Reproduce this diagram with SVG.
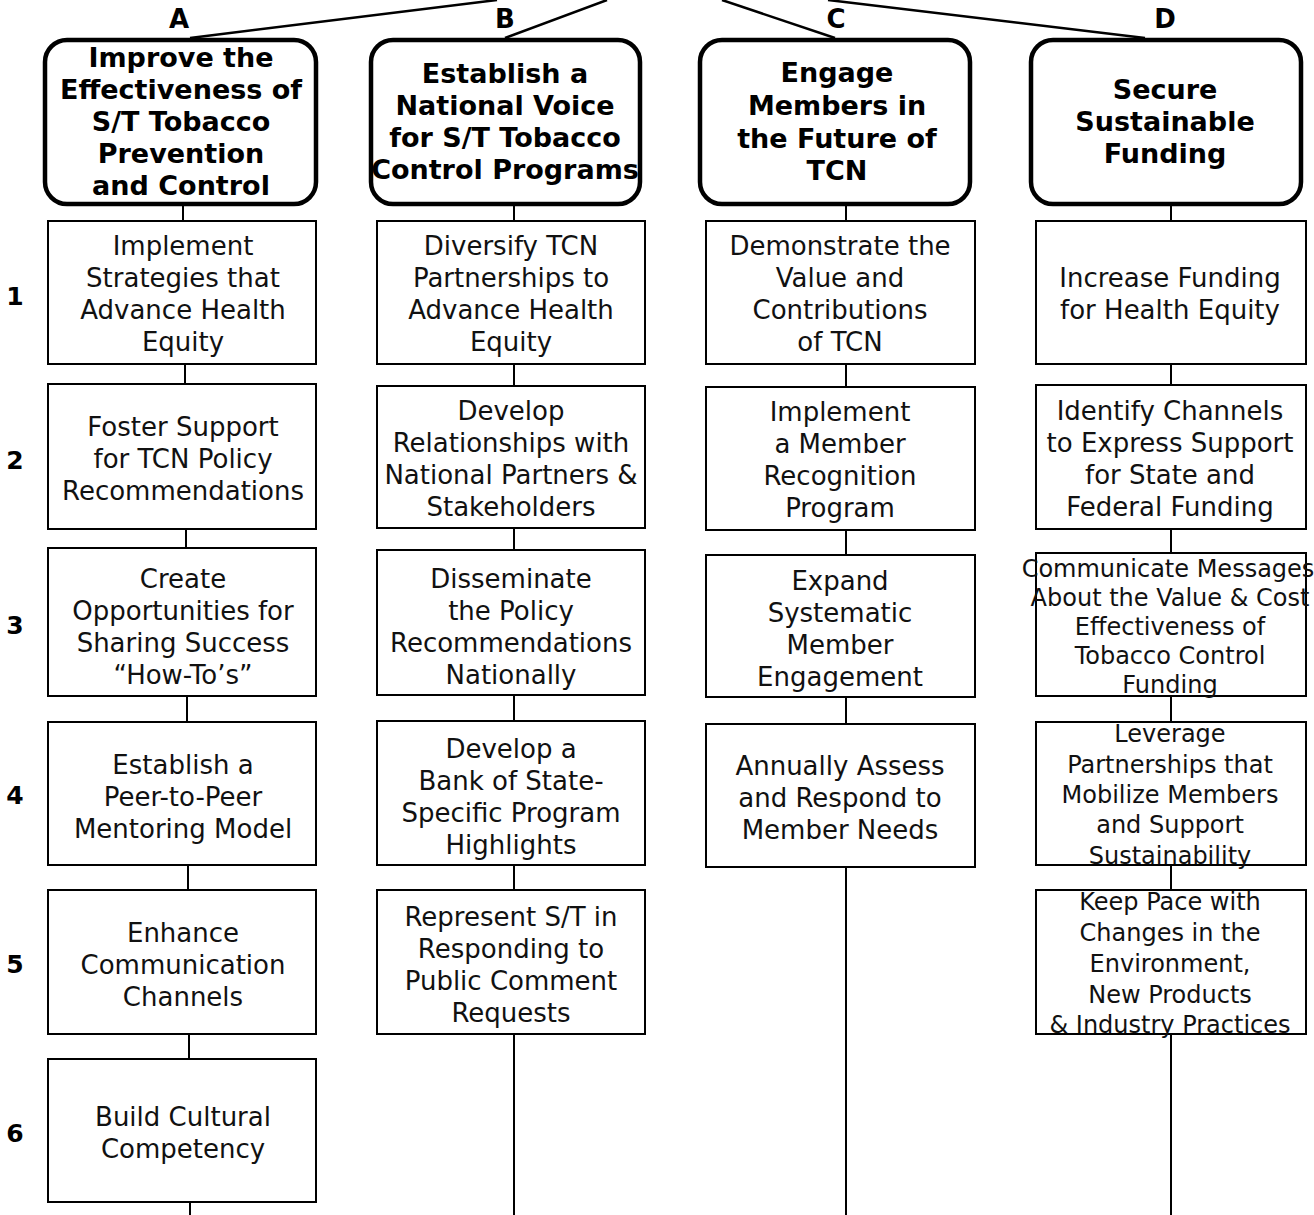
<svg xmlns="http://www.w3.org/2000/svg" width="1314" height="1215" viewBox="0 0 1314 1215">
<style>
.bg{fill:#fff}
.head{fill:#fff;stroke:#000;stroke-width:4.5}
.box{fill:#fff;stroke:#000;stroke-width:2}
.ln{stroke:#000;stroke-width:2;fill:none}
.tl{stroke:#000;stroke-width:2.5;fill:none}
.ht{font-family:"DejaVu Sans","Liberation Sans",sans-serif;font-weight:bold;font-size:27px;text-anchor:middle;fill:#000}
.bt{font-family:"DejaVu Sans","Liberation Sans",sans-serif;font-size:26px;text-anchor:middle;fill:#111}
.st{font-family:"DejaVu Sans","Liberation Sans",sans-serif;font-size:24px;text-anchor:middle;fill:#111}
.lb{font-family:"DejaVu Sans","Liberation Sans",sans-serif;font-weight:bold;font-size:26px;text-anchor:middle;fill:#000}
.rn{font-family:"DejaVu Sans","Liberation Sans",sans-serif;font-weight:bold;font-size:25px;text-anchor:middle;fill:#000}
</style>
<rect class="bg" x="0" y="0" width="1314" height="1215"/>
<g id="connectors">
<line class="tl" x1="190" y1="38" x2="497" y2="0"/>
<line class="tl" x1="505" y1="38" x2="607" y2="0"/>
<line class="tl" x1="835" y1="38" x2="722" y2="0"/>
<line class="tl" x1="1145" y1="38" x2="828" y2="0"/>
<line class="ln" x1="183" y1="204" x2="183" y2="221"/>
<line class="ln" x1="185" y1="364" x2="185" y2="384"/>
<line class="ln" x1="186" y1="529" x2="186" y2="548"/>
<line class="ln" x1="187" y1="696" x2="187" y2="722"/>
<line class="ln" x1="188" y1="865" x2="188" y2="890"/>
<line class="ln" x1="189" y1="1034" x2="189" y2="1059"/>
<line class="ln" x1="190" y1="1202" x2="190" y2="1215"/>
<line class="ln" x1="514" y1="204" x2="514" y2="1215"/>
<line class="ln" x1="846" y1="204" x2="846" y2="1215"/>
<line class="ln" x1="1171" y1="204" x2="1171" y2="1215"/>
</g>
<g id="col-labels">
<text class="lb" x="179" y="28">A</text>
<text class="lb" x="505" y="28">B</text>
<text class="lb" x="836" y="28">C</text>
<text class="lb" x="1165" y="28">D</text>
</g>
<g id="row-labels">
<text class="rn" x="15" y="305">1</text>
<text class="rn" x="15" y="469">2</text>
<text class="rn" x="15" y="634">3</text>
<text class="rn" x="15" y="804">4</text>
<text class="rn" x="15" y="973">5</text>
<text class="rn" x="15" y="1142">6</text>
</g>
<g id="headA">
<rect class="head" x="45" y="40" width="271" height="164" rx="22"/>
<text class="ht" x="181" y="67">Improve the</text>
<text class="ht" x="181" y="99">Effectiveness of</text>
<text class="ht" x="181" y="131">S/T Tobacco</text>
<text class="ht" x="181" y="163">Prevention</text>
<text class="ht" x="181" y="195">and Control</text>
</g>
<g id="headB">
<rect class="head" x="371" y="40" width="269" height="164" rx="22"/>
<text class="ht" x="505" y="83">Establish a</text>
<text class="ht" x="505" y="115">National Voice</text>
<text class="ht" x="505" y="147">for S/T Tobacco</text>
<text class="ht" x="505" y="179">Control Programs</text>
</g>
<g id="headC">
<rect class="head" x="700" y="40" width="270" height="164" rx="22"/>
<text class="ht" x="837" y="82">Engage</text>
<text class="ht" x="837" y="115">Members in</text>
<text class="ht" x="837" y="148">the Future of</text>
<text class="ht" x="837" y="180">TCN</text>
</g>
<g id="headD">
<rect class="head" x="1031" y="40" width="270" height="164" rx="22"/>
<text class="ht" x="1165" y="99">Secure</text>
<text class="ht" x="1165" y="131">Sustainable</text>
<text class="ht" x="1165" y="163">Funding</text>
</g>
<g id="A1">
<rect class="box" x="48" y="221" width="268" height="143"/>
<text class="bt" x="183" y="255">Implement</text>
<text class="bt" x="183" y="287">Strategies that</text>
<text class="bt" x="183" y="319">Advance Health</text>
<text class="bt" x="183" y="351">Equity</text>
</g>
<g id="A2">
<rect class="box" x="48" y="384" width="268" height="145"/>
<text class="bt" x="183" y="436">Foster Support</text>
<text class="bt" x="183" y="468">for TCN Policy</text>
<text class="bt" x="183" y="500">Recommendations</text>
</g>
<g id="A3">
<rect class="box" x="48" y="548" width="268" height="148"/>
<text class="bt" x="183" y="588">Create</text>
<text class="bt" x="183" y="620">Opportunities for</text>
<text class="bt" x="183" y="652">Sharing Success</text>
<text class="bt" x="183" y="684">“How-To’s”</text>
</g>
<g id="A4">
<rect class="box" x="48" y="722" width="268" height="143"/>
<text class="bt" x="183" y="774">Establish a</text>
<text class="bt" x="183" y="806">Peer-to-Peer</text>
<text class="bt" x="183" y="838">Mentoring Model</text>
</g>
<g id="A5">
<rect class="box" x="48" y="890" width="268" height="144"/>
<text class="bt" x="183" y="942">Enhance</text>
<text class="bt" x="183" y="974">Communication</text>
<text class="bt" x="183" y="1006">Channels</text>
</g>
<g id="A6">
<rect class="box" x="48" y="1059" width="268" height="143"/>
<text class="bt" x="183" y="1126">Build Cultural</text>
<text class="bt" x="183" y="1158">Competency</text>
</g>
<g id="B1">
<rect class="box" x="377" y="221" width="268" height="143"/>
<text class="bt" x="511" y="255">Diversify TCN</text>
<text class="bt" x="511" y="287">Partnerships to</text>
<text class="bt" x="511" y="319">Advance Health</text>
<text class="bt" x="511" y="351">Equity</text>
</g>
<g id="B2">
<rect class="box" x="377" y="386" width="268" height="142"/>
<text class="bt" x="511" y="420">Develop</text>
<text class="bt" x="511" y="452">Relationships with</text>
<text class="bt" x="511" y="484">National Partners &amp;</text>
<text class="bt" x="511" y="516">Stakeholders</text>
</g>
<g id="B3">
<rect class="box" x="377" y="550" width="268" height="145"/>
<text class="bt" x="511" y="588">Disseminate</text>
<text class="bt" x="511" y="620">the Policy</text>
<text class="bt" x="511" y="652">Recommendations</text>
<text class="bt" x="511" y="684">Nationally</text>
</g>
<g id="B4">
<rect class="box" x="377" y="721" width="268" height="144"/>
<text class="bt" x="511" y="758">Develop a</text>
<text class="bt" x="511" y="790">Bank of State-</text>
<text class="bt" x="511" y="822">Specific Program</text>
<text class="bt" x="511" y="854">Highlights</text>
</g>
<g id="B5">
<rect class="box" x="377" y="890" width="268" height="144"/>
<text class="bt" x="511" y="926">Represent S/T in</text>
<text class="bt" x="511" y="958">Responding to</text>
<text class="bt" x="511" y="990">Public Comment</text>
<text class="bt" x="511" y="1022">Requests</text>
</g>
<g id="C1">
<rect class="box" x="706" y="221" width="269" height="143"/>
<text class="bt" x="840" y="255">Demonstrate the</text>
<text class="bt" x="840" y="287">Value and</text>
<text class="bt" x="840" y="319">Contributions</text>
<text class="bt" x="840" y="351">of TCN</text>
</g>
<g id="C2">
<rect class="box" x="706" y="387" width="269" height="143"/>
<text class="bt" x="840" y="421">Implement</text>
<text class="bt" x="840" y="453">a Member</text>
<text class="bt" x="840" y="485">Recognition</text>
<text class="bt" x="840" y="517">Program</text>
</g>
<g id="C3">
<rect class="box" x="706" y="555" width="269" height="142"/>
<text class="bt" x="840" y="590">Expand</text>
<text class="bt" x="840" y="622">Systematic</text>
<text class="bt" x="840" y="654">Member</text>
<text class="bt" x="840" y="686">Engagement</text>
</g>
<g id="C4">
<rect class="box" x="706" y="724" width="269" height="143"/>
<text class="bt" x="840" y="775">Annually Assess</text>
<text class="bt" x="840" y="807">and Respond to</text>
<text class="bt" x="840" y="839">Member Needs</text>
</g>
<g id="D1">
<rect class="box" x="1036" y="221" width="270" height="143"/>
<text class="bt" x="1170" y="287">Increase Funding</text>
<text class="bt" x="1170" y="319">for Health Equity</text>
</g>
<g id="D2">
<rect class="box" x="1036" y="385" width="270" height="144"/>
<text class="bt" x="1170" y="420">Identify Channels</text>
<text class="bt" x="1170" y="452">to Express Support</text>
<text class="bt" x="1170" y="484">for State and</text>
<text class="bt" x="1170" y="516">Federal Funding</text>
</g>
<g id="D3">
<rect class="box" x="1036" y="553" width="270" height="143"/>
<text class="st" x="1168" y="577">Communicate Messages</text>
<text class="st" x="1170" y="606">About the Value &amp; Cost</text>
<text class="st" x="1170" y="635">Effectiveness of</text>
<text class="st" x="1170" y="664">Tobacco Control</text>
<text class="st" x="1170" y="693">Funding</text>
</g>
<g id="D4">
<rect class="box" x="1036" y="722" width="270" height="143"/>
<text class="st" x="1170" y="742">Leverage</text>
<text class="st" x="1170" y="773">Partnerships that</text>
<text class="st" x="1170" y="803">Mobilize Members</text>
<text class="st" x="1170" y="833">and Support</text>
<text class="st" x="1170" y="864">Sustainability</text>
</g>
<g id="D5">
<rect class="box" x="1036" y="890" width="270" height="144"/>
<text class="st" x="1170" y="910">Keep Pace with</text>
<text class="st" x="1170" y="941">Changes in the</text>
<text class="st" x="1170" y="972">Environment,</text>
<text class="st" x="1170" y="1003">New Products</text>
<text class="st" x="1170" y="1033">&amp; Industry Practices</text>
</g>
</svg>
